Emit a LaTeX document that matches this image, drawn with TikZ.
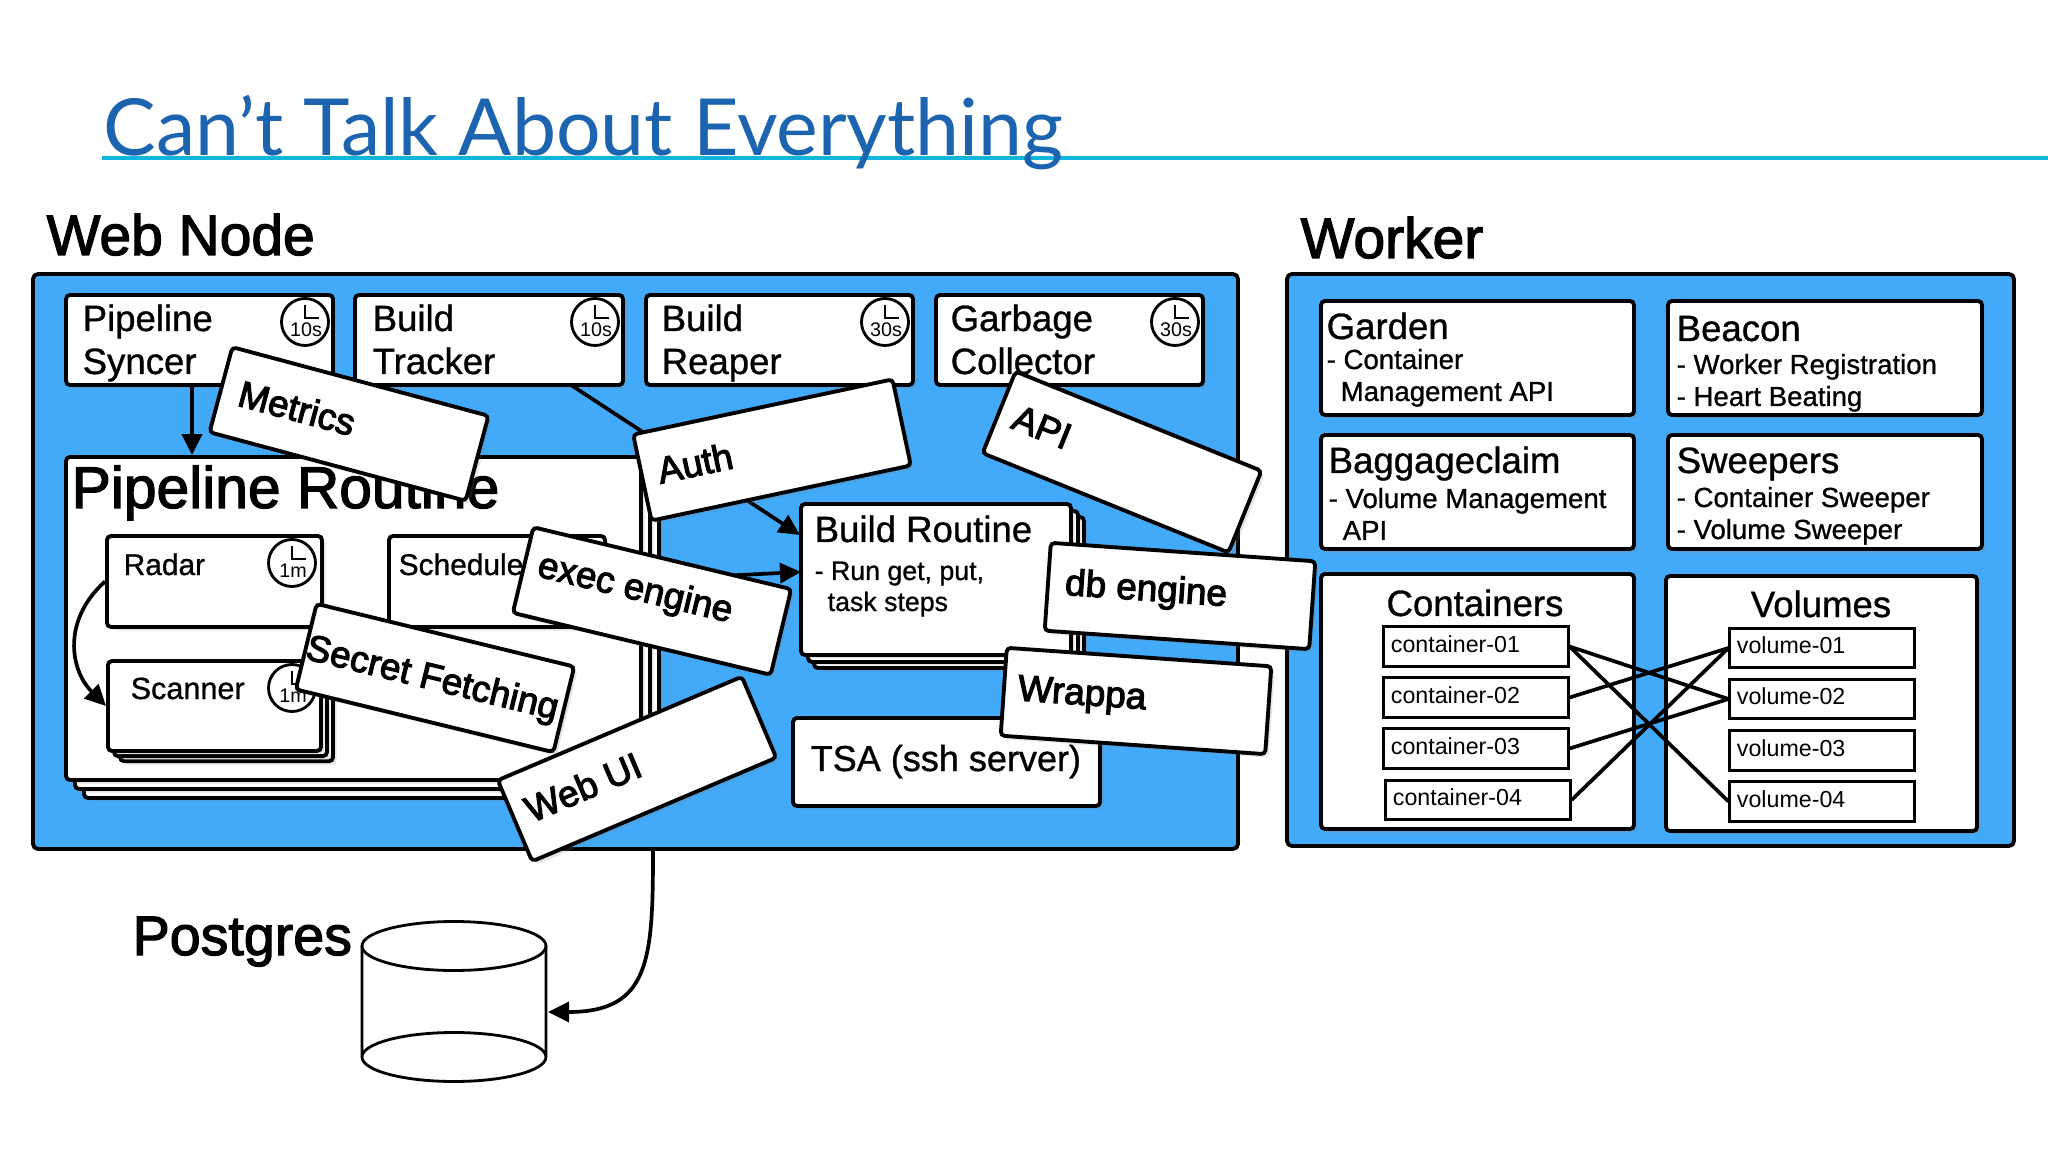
\documentclass[tikz,border=0pt]{standalone}
\usepackage{fontspec}
\setmainfont{Liberation Sans}
\newfontfamily\titlefont{Lato}
\newfontfamily\headfont[FakeBold=2.2]{Liberation Sans}
\newfontfamily\medfont[FakeBold=0.9]{Liberation Sans}
\newfontfamily\platefont[FakeBold=3]{Liberation Sans}
\usetikzlibrary{arrows.meta, fit, shadows}

\definecolor{paneBlue}{RGB}{66,170,249}
\definecolor{titleBlue}{RGB}{28,100,175}
\definecolor{ruleCyan}{RGB}{18,181,220}

\begin{document}
\begin{tikzpicture}[
    x=0.01cm, y=-0.01cm,
    >={Stealth[length=0.21cm, width=0.2cm, inset=0pt]},
    pane/.style={draw, line width=1.1pt, fill=paneBlue, rounded corners=0.05cm, inner sep=0pt},
    panel/.style={draw, line width=1.1pt, fill=white, rounded corners=0.04cm, inner sep=0pt,
                  drop shadow={shadow xshift=1pt, shadow yshift=-1pt, opacity=0.2}},
    plate/.style={panel, minimum width=2.65cm, minimum height=0.88cm},
    platetext/.style={font=\fontsize{10.5}{12}\platefont},
    heading/.style={font=\fontsize{16.2}{19}\headfont, anchor=base west},
    midtext/.style={font=\fontsize{10.4}{12}\medfont, anchor=base west},
    subtext/.style={font=\fontsize{7.85}{9}\medfont, anchor=base west},
    tagbox/.style={draw, line width=0.85pt, fill=white, minimum height=0.39cm,
                   text width=1.7cm, inner xsep=0.07cm, inner ysep=0pt, align=left,
                   text height=0.16cm, text depth=0.05cm,
                   font=\fontsize{6.6}{8}\selectfont},
    wire/.style={line width=1.05pt},
]
\useasboundingbox (0,0) rectangle (2048,1152);

% title
\draw[ruleCyan, line width=1pt] (102,158) -- (2048,158);
\node[font=\fontsize{22.4}{26}\titlefont, text=titleBlue, anchor=base west, inner sep=0pt]
    (title) at (103,156) {Can’t Talk About Everything};

% the two big panes
\node[heading, inner sep=0pt] (webhead) at (46,255) {Web Node};
\node[heading, inner sep=0pt] (workerhead) at (1300,258) {Worker};
\node[pane, fit={(33,274) (1238,849)}] (webnode) {};
\node[pane, fit={(1287,274) (2014,846)}] (worker) {};

% top row of web node
\node[panel, fit={(66,295) (333,385)}] (syncer) {};
\node[panel, fit={(355,295) (623,385)}] (tracker) {};
\node[panel, fit={(646,295) (913,385)}] (reaper) {};
\node[panel, fit={(936,295) (1203,385)}] (collector) {};
\foreach \x/\y/\txt [count=\n] in {82/331/Pipeline, 82/374/Syncer, 372/331/Build, 372/374/Tracker,
    661/331/Build, 661/374/Reaper, 950/331/Garbage, 950/374/Collector} {
    \node[midtext, inner sep=0pt] (toplabel\n) at (\x,\y) {\txt};
}

% pipeline routine, stacked
\foreach \s in {18,9,0} {
    \node[panel, fit={(66+\s,457+\s) (641+\s,780+\s)}] (pipeline\s) {};
}
\node[inner sep=0pt, anchor=base west, font=\fontsize{16.7}{19}\headfont]
    (pipelinehead) at (71,508) {Pipeline Routine};
\node[panel, fit={(107,536) (322,627)}] (radar) {};
\node[panel, fit={(389,536) (605,627)}] (schedule) {};
\foreach \s in {12,6,0} {
    \node[panel, fit={(108+\s,661+\s*0.85) (321+\s,751+\s*0.85)}] (scanner\s) {};
}
\node[midtext, inner sep=0pt, font=\fontsize{8.5}{10}\medfont] (radarlabel) at (123,575) {Radar};
\node[midtext, inner sep=0pt, font=\fontsize{8.5}{10}\medfont] (schedulelabel) at (398,575) {Schedule};
\node[midtext, inner sep=0pt, font=\fontsize{8.7}{10}\medfont] (scannerlabel) at (130,699) {Scanner};

% build routine, stacked
\foreach \s in {13,7,0} {
    \node[panel, fit={(801+\s,504+\s) (1071+\s,655+\s)}] (build\s) {};
}
\node[midtext, inner sep=0pt] (buildlabel) at (814,542) {Build Routine};
\node[subtext, inner sep=0pt, font=\fontsize{7.6}{9}\medfont] (buildsub1) at (814,580) {- Run get, put,};
\node[subtext, inner sep=0pt, font=\fontsize{7.6}{9}\medfont] (buildsub2) at (827,611) {task steps};

\node[panel, fit={(793,718) (1100,806)}] (tsa) {};
\node[midtext, inner sep=0pt, font=\fontsize{10.25}{12}\medfont] (tsalabel) at (810,771) {TSA (ssh server)};

% clocks
\foreach \cx/\cy/\cname/\lbl in {305/322/a/10s, 595/322/b/10s, 885/322/c/30s, 1175/322/d/30s,
    292/563/e/1m, 292/688/f/1m} {
    \node[draw, circle, line width=0.8pt, fill=white, minimum size=0.47cm, inner sep=0pt]
        (clock\cname) at (\cx,\cy) {};
    \draw[line width=0.8pt] (\cx,\cy-17) -- (\cx,\cy-4) -- (\cx+14,\cy-4);
    \node[font=\fontsize{5.6}{6}\selectfont, inner sep=0pt] (clocklabel\cname) at (\cx+1,\cy+8) {\lbl};
}

% arrows inside the web node
\coordinate (syncout) at (192,385);
\coordinate (trackout) at (571,385);
\coordinate (buildauth) at (800,535);
\coordinate (buildexec) at (801,572);
\draw[->, wire] (syncout) -- (syncout |- pipeline0.north);
\draw[->, wire] (trackout) -- (buildauth);
\draw[->, wire] (schedule.east) -- (buildexec);
\draw[->, wire] (radar.west) .. controls (62,620) and (70,670) .. (scanner0.west);

% worker boxes
\node[panel, fit={(1321,301) (1634,415)}] (garden) {};
\node[panel, fit={(1668,301) (1982,415)}] (beacon) {};
\node[panel, fit={(1321,435) (1634,549)}] (baggage) {};
\node[panel, fit={(1668,435) (1982,549)}] (sweepers) {};
\node[panel, fit={(1321,574) (1634,829)}] (containers) {};
\node[panel, fit={(1666,576) (1977,831)}] (volumes) {};
\foreach \x/\y/\txt [count=\n] in {1326/339/Garden, 1676/341/Beacon, 1328/473/Baggageclaim, 1676/473/Sweepers} {
    \node[midtext, inner sep=0pt, font=\fontsize{10.4}{12}\medfont] (workerlabel\n) at (\x,\y) {\txt};
}
\foreach \x/\y/\txt [count=\n] in {1326/369/- Container, 1340/401/Management API,
    1676/374/- Worker Registration, 1676/406/- Heart Beating,
    1328/508/- Volume Management, 1342/540/API,
    1676/507/- Container Sweeper, 1676/539/- Volume Sweeper} {
    \node[subtext, inner sep=0pt] (workersub\n) at (\x,\y) {\txt};
}
\node[midtext, inner sep=0pt, anchor=base] (containershead) at (1475,616) {Containers};
\node[midtext, inner sep=0pt, anchor=base] (volumeshead) at (1821,617) {Volumes};

\foreach \n/\x/\y in {1/1476/646.5, 2/1476/697.5, 3/1476/748.5, 4/1478/800} {
    \node[tagbox] (cont\n) at (\x,\y) {container-0\n};
}
\foreach \n/\y in {1/648, 2/699, 3/750.5, 4/801.5} {
    \node[tagbox] (vol\n) at (1822,\y) {volume-0\n};
}
\foreach \a/\b in {1/2, 1/4, 2/1, 3/2, 4/1} {
    \draw[wire] (cont\a.east) -- (vol\b.west);
}

% postgres
\node[anchor=base west, inner sep=0pt, font=\fontsize{15.8}{18}\headfont] (pghead) at (132,955) {Postgres};
\draw[line width=0.8pt] (362,946) -- (362,1057) arc[start angle=180, end angle=360, x radius=92, y radius=24.5]
    -- (546,946);
\draw[line width=0.8pt] (454,946) ellipse[x radius=92, y radius=24.5];
\draw[line width=0.8pt] (362,1057) arc[start angle=180, end angle=0, x radius=92, y radius=24.5];
\coordinate (dbfrom) at (653,849);
\coordinate (dbport) at (548,1012);
\draw[->, wire] (dbfrom) .. controls (653,960) and (650,1012) .. (dbport);

% the covering plates
\node[plate, rotate=-15] (metrics) at (349,424) {};
\node[platetext, rotate=-15] (metricstext) at (297,408) {Metrics};
\node[plate, rotate=12] (auth) at (772,450) {};
\node[platetext, rotate=12] (authtext) at (695,463) {Auth};
\node[plate, rotate=-22] (api) at (1122,462) {};
\node[platetext, rotate=-22] (apitext) at (1042,427) {API};
\node[plate, rotate=-4] (db) at (1180,596) {};
\node[platetext, rotate=-4] (dbtext) at (1146,591) {db engine};
\node[plate, rotate=-4] (wrappa) at (1136,701) {};
\node[platetext, rotate=-4] (wrappatext) at (1082,696) {Wrappa};
\node[plate, rotate=-13.5] (exec) at (652,601) {};
\node[platetext, rotate=-13.5] (exectext) at (635,590) {exec engine};
\node[plate, rotate=-13.7] (secret) at (435,678) {};
\node[platetext, rotate=-13.7] (secrettext) at (432,680) {Secret Fetching};
\node[plate, rotate=23] (webui) at (637,769) {};
\node[platetext, rotate=23] (webuitext) at (583,787) {Web UI};

\end{tikzpicture}
\end{document}
